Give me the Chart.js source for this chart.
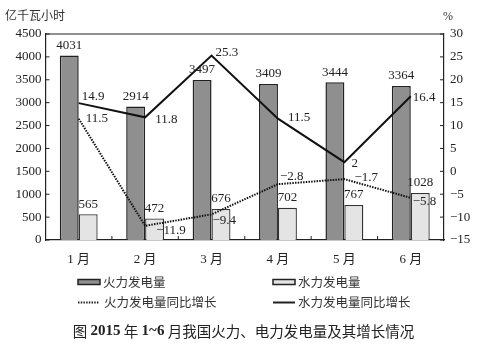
<!DOCTYPE html>
<html>
<head>
<meta charset="utf-8">
<script src="https://cdn.jsdelivr.net/npm/chart.js@4/dist/chart.umd.min.js"></script>
<style>
  html, body { margin: 0; padding: 0; background: #fff; }
  #wrap { width: 485px; height: 348px; }
</style>
</head>
<body>
<div id="wrap"><canvas id="powerChart" width="485" height="348"></canvas></div>
<script>
// 月份与数据
const months = ['1 月', '2 月', '3 月', '4 月', '5 月', '6 月'];
const thermalOutput = [4031, 2914, 3497, 3409, 3444, 3364];   // 火力发电量（亿千瓦小时）
const hydroOutput = [565, 472, 676, 702, 767, 1028];          // 水力发电量
const thermalGrowth = [11.5, -11.9, -9.4, -2.8, -1.7, -5.8];  // 火力同比增长 %
const hydroGrowth = [14.9, 11.8, 25.3, 11.5, 2, 16.4];        // 水力同比增长 %

// 标签相对数据点的偏移（左对齐文字）
const hydroGrowthOffsets = [[3, -7], [10, 2], [4, -3], [10, -1], [7, 1], [2, 1]];
const thermalGrowthOffsets = [[7, 0], [11, 5], [1, 6], [2, -8], [10, -2], [2, 4]];

const serif = '"Liberation Serif", "Noto Sans CJK SC", serif';
const cjk = '"Noto Sans CJK SC", sans-serif';
const ink = '#222';

const fmt = v => String(v).replace('-', '\u2212');

// 数值标签、内侧刻度、外框、图例和标题
const decorations = {
    id: 'decorations',
    afterDatasetsDraw(chart) {
        const ctx = chart.ctx;
        const area = chart.chartArea;
        const x = chart.scales.x, y = chart.scales.y, y1 = chart.scales.y1;

        ctx.save();
        // 顶部边框
        ctx.strokeStyle = ink;
        ctx.lineWidth = 1.2;
        ctx.beginPath();
        ctx.moveTo(area.left, area.top);
        ctx.lineTo(area.right, area.top);
        ctx.stroke();

        // 内侧刻度
        ctx.lineWidth = 1;
        ctx.beginPath();
        y.ticks.forEach(t => {
            const py = y.getPixelForValue(t.value);
            ctx.moveTo(area.left, py);
            ctx.lineTo(area.left + 4, py);
        });
        y1.ticks.forEach(t => {
            const py = y1.getPixelForValue(t.value);
            ctx.moveTo(area.right, py);
            ctx.lineTo(area.right - 4, py);
        });
        for (let i = 0; i < months.length - 1; i++) {
            const px = (x.getPixelForValue(i) + x.getPixelForValue(i + 1)) / 2;
            ctx.moveTo(px, area.bottom);
            ctx.lineTo(px, area.bottom - 4);
        }
        ctx.stroke();

        // 数值标签
        ctx.fillStyle = ink;
        ctx.font = '13px ' + serif;
        ctx.textBaseline = 'middle';
        [0, 1].forEach(di => {
            const meta = chart.getDatasetMeta(di);
            const values = chart.data.datasets[di].data;
            ctx.textAlign = 'center';
            meta.data.forEach((bar, i) => {
                ctx.fillText(fmt(values[i]), bar.x, bar.y - 10);
            });
        });
        [[2, thermalGrowthOffsets], [3, hydroGrowthOffsets]].forEach(([di, offs]) => {
            const meta = chart.getDatasetMeta(di);
            const values = chart.data.datasets[di].data;
            ctx.textAlign = 'left';
            meta.data.forEach((pt, i) => {
                ctx.fillText(fmt(values[i]), pt.x + offs[i][0], pt.y + offs[i][1]);
            });
        });

        // 轴标题
        ctx.font = '12px ' + cjk;
        ctx.fillStyle = '#333';
        ctx.textAlign = 'left';
        ctx.fillText('亿千瓦小时', 5, 15);
        ctx.font = '12px ' + serif;
        ctx.fillText('%', 443, 17);

        // 图例
        ctx.font = '12.5px ' + cjk;
        ctx.lineWidth = 1.5;
        ctx.strokeStyle = ink;
        ctx.fillStyle = '#8f8f8f';
        ctx.fillRect(78, 279.5, 22, 5);
        ctx.strokeRect(78, 279.5, 22, 5);
        ctx.fillStyle = '#e4e4e4';
        ctx.fillRect(273, 279.5, 22, 5);
        ctx.strokeRect(273, 279.5, 22, 5);
        ctx.fillStyle = '#333';
        ctx.fillText('火力发电量', 103, 282);
        ctx.fillText('水力发电量', 298, 282);

        ctx.lineWidth = 2;
        ctx.setLineDash([1.5, 1.2]);
        ctx.beginPath();
        ctx.moveTo(78, 302.5);
        ctx.lineTo(99, 302.5);
        ctx.stroke();
        ctx.setLineDash([]);
        ctx.beginPath();
        ctx.moveTo(273, 302.5);
        ctx.lineTo(295, 302.5);
        ctx.stroke();
        ctx.fillText('火力发电量同比增长', 104, 302);
        ctx.fillText('水力发电量同比增长', 298, 302);

        // 图题
        const parts = [
            ['图 ', '14.5px ' + cjk],
            ['2015', 'bold 15px ' + serif],
            [' 年 ', '14.5px ' + cjk],
            ['1~6', 'bold 15px ' + serif],
            [' 月我国火力、电力发电量及其增长情况', '14.5px ' + cjk]
        ];
        let total = 0;
        parts.forEach(p => { ctx.font = p[1]; total += ctx.measureText(p[0]).width; });
        let cx = 243.5 - total / 2;
        ctx.fillStyle = '#222';
        parts.forEach(p => {
            ctx.font = p[1];
            ctx.fillText(p[0], cx, 331);
            cx += ctx.measureText(p[0]).width;
        });
        ctx.restore();
    }
};

new Chart(document.getElementById('powerChart'), {
    data: {
        labels: months,
        datasets: [
            {
                type: 'bar',
                label: '火力发电量',
                data: thermalOutput,
                backgroundColor: '#8f8f8f',
                borderColor: ink,
                borderWidth: 1.5,
                yAxisID: 'y',
                order: 2,
                barPercentage: 1.0,
                categoryPercentage: 0.57
            },
            {
                type: 'bar',
                label: '水力发电量',
                data: hydroOutput,
                backgroundColor: '#e4e4e4',
                borderColor: '#333',
                borderWidth: 1.3,
                yAxisID: 'y',
                order: 2,
                barPercentage: 1.0,
                categoryPercentage: 0.57
            },
            {
                type: 'line',
                label: '火力发电量同比增长',
                data: thermalGrowth,
                borderColor: '#111',
                borderWidth: 2,
                borderDash: [1.5, 1.2],
                pointRadius: 0,
                tension: 0,
                yAxisID: 'y1',
                order: 0
            },
            {
                type: 'line',
                label: '水力发电量同比增长',
                data: hydroGrowth,
                borderColor: '#111',
                borderWidth: 2,
                pointRadius: 0,
                tension: 0,
                yAxisID: 'y1',
                order: 0
            }
        ]
    },
    options: {
        responsive: false,
        animation: false,
        devicePixelRatio: 1,
        layout: { padding: { top: 34, left: 0, right: 0, bottom: 0 } },
        plugins: {
            legend: { display: false },
            tooltip: { enabled: false }
        },
        scales: {
            x: {
                grid: { display: false, drawTicks: false },
                border: { color: ink, width: 1.2 },
                ticks: { color: ink, padding: 12, font: { family: serif, size: 13 } },
                afterFit: s => { s.height = 108; }
            },
            y: {
                position: 'left',
                min: 0,
                max: 4500,
                ticks: { stepSize: 500, color: ink, padding: 4, font: { family: serif, size: 13 }, callback: v => String(v) },
                grid: { display: false, drawTicks: false },
                border: { color: ink, width: 1.2 },
                afterFit: s => { s.width = 45.5; }
            },
            y1: {
                position: 'right',
                min: -15,
                max: 30,
                ticks: { stepSize: 5, color: ink, padding: 6, font: { family: serif, size: 13 }, callback: v => fmt(v) },
                grid: { display: false, drawTicks: false },
                border: { color: ink, width: 1.2 },
                afterFit: s => { s.width = 41; }
            }
        }
    },
    plugins: [decorations]
});
</script>
</body>
</html>
